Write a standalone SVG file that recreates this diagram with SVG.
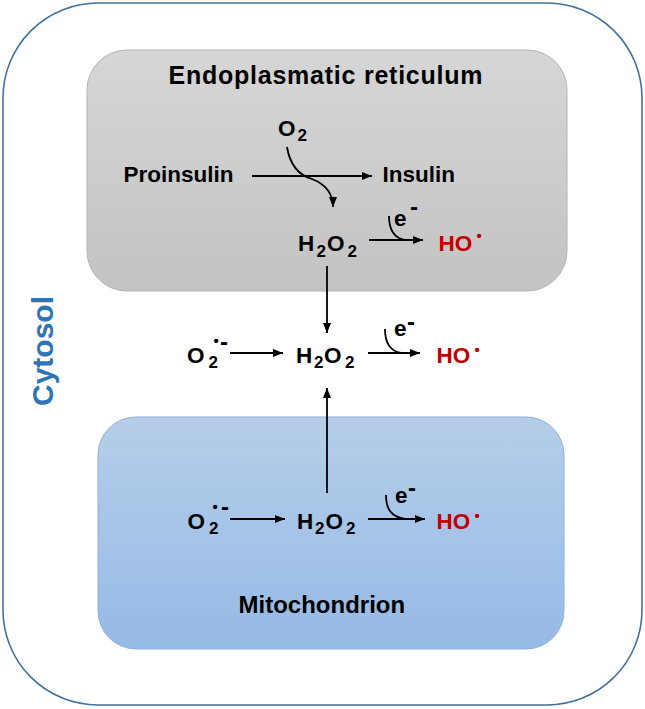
<svg xmlns="http://www.w3.org/2000/svg" width="645" height="709" viewBox="0 0 645 709">
<style>
text { font-family: "Liberation Sans", Arial, sans-serif; font-weight: bold; fill: #000; }
.sp { font-size: 22.5px; }
.sub { font-size: 17px; }
.red { fill: #c00000; }
.dot { font-size: 15px; }
.minus { font-size: 24px; }
.title { font-size: 25px; }
.conn { stroke: #000; stroke-width: 1.8; fill: none; }
.arr { marker-end: url(#ah); }
</style>
<defs>
<linearGradient id="gGray" x1="0" y1="0" x2="0" y2="1">
<stop offset="0" stop-color="#d6d6d6"/>
<stop offset="1" stop-color="#c3c3c3"/>
</linearGradient>
<linearGradient id="gBlue" x1="0" y1="0" x2="0" y2="1">
<stop offset="0" stop-color="#b6cee9"/>
<stop offset="1" stop-color="#95bae6"/>
</linearGradient>
<marker id="ah" markerWidth="10" markerHeight="8" refX="10" refY="4" orient="auto" markerUnits="userSpaceOnUse">
<path d="M0,0 L10,4 L0,8 z" fill="#000"/>
</marker>
</defs>

<g id="cytosol">
<rect x="3" y="3" width="639" height="702" rx="95" ry="95" fill="#fff" stroke="#41719c" stroke-width="1.6"/>
<text transform="translate(53,351) rotate(-90)" text-anchor="middle" style="font-size:30px;fill:#2e75b6">Cytosol</text>
</g>

<g id="er">
<rect x="87" y="50" width="480" height="241" rx="40" ry="40" fill="url(#gGray)" stroke="#b4b4b4" stroke-width="1"/>
<text class="title" x="168.5" y="84" textLength="314" lengthAdjust="spacing">Endoplasmatic reticulum</text>
</g>

<g id="mito">
<rect x="98" y="417" width="466" height="232" rx="38" ry="38" fill="url(#gBlue)" stroke="#8eb1da" stroke-width="1"/>
<text class="title" x="238.5" y="613" style="font-size:24px">Mitochondrion</text>
</g>

<g id="er-species">
<text class="sp" x="278" y="136">O</text>
<text class="sub" x="297.5" y="141">2</text>
<text class="sp" x="123.5" y="182">Proinsulin</text>
<text class="sp" x="382.5" y="182">Insulin</text>
<text class="sp" x="298" y="251">H</text>
<text class="sub" x="316.5" y="256.5">2</text>
<text class="sp" x="327" y="251">O</text>
<text class="sub" x="347.5" y="256.5">2</text>
<text class="sp" x="394" y="226">e</text>
<text class="minus" x="410" y="214.8">-</text>
<text class="sp red" x="438.4" y="251">HO</text>
<text class="dot red" x="476.5" y="241">•</text>
</g>

<g id="cyt-species">
<text class="sp" x="187" y="363">O</text>
<text class="sub" x="208.5" y="368">2</text>
<text class="dot" x="213.5" y="346">•</text>
<text class="minus" x="220" y="349.8">-</text>
<text class="sp" x="296" y="363">H</text>
<text class="sub" x="314" y="368">2</text>
<text class="sp" x="324" y="363">O</text>
<text class="sub" x="345" y="368">2</text>
<text class="sp" x="394" y="336">e</text>
<text class="minus" x="407" y="329.8">-</text>
<text class="sp red" x="436.4" y="363">HO</text>
<text class="dot red" x="474.5" y="355">•</text>
</g>

<g id="mito-species">
<text class="sp" x="187.5" y="529">O</text>
<text class="sub" x="209" y="534">2</text>
<text class="dot" x="212.5" y="512">•</text>
<text class="minus" x="221" y="514.8">-</text>
<text class="sp" x="297" y="529">H</text>
<text class="sub" x="315" y="534">2</text>
<text class="sp" x="325.5" y="529">O</text>
<text class="sub" x="346" y="534">2</text>
<text class="sp" x="395" y="503">e</text>
<text class="minus" x="408" y="495.8">-</text>
<text class="sp red" x="436.4" y="529">HO</text>
<text class="dot red" x="474.5" y="521">•</text>
</g>

<g id="connectors">
<line class="conn arr" x1="252" y1="176" x2="372" y2="176"/>
<path class="conn arr" d="M287,147 C290,165 298,175 312,179 C325,184 333,192 333,207"/>
<line class="conn arr" x1="369" y1="240" x2="423" y2="240"/>
<path class="conn" d="M389,216 C389,230 394,238 405,240"/>
<line class="conn arr" x1="327" y1="266" x2="327" y2="333"/>
<line class="conn arr" x1="230" y1="353" x2="283" y2="353"/>
<line class="conn arr" x1="368" y1="353" x2="420" y2="353"/>
<path class="conn" d="M385,329 C385,343 390,351 401,353"/>
<line class="conn arr" x1="327" y1="493" x2="327" y2="388"/>
<line class="conn arr" x1="230" y1="519" x2="285" y2="519"/>
<line class="conn arr" x1="368" y1="519" x2="425" y2="519"/>
<path class="conn" d="M386,495 C386,510 392,517 405,519"/>
</g>
</svg>
